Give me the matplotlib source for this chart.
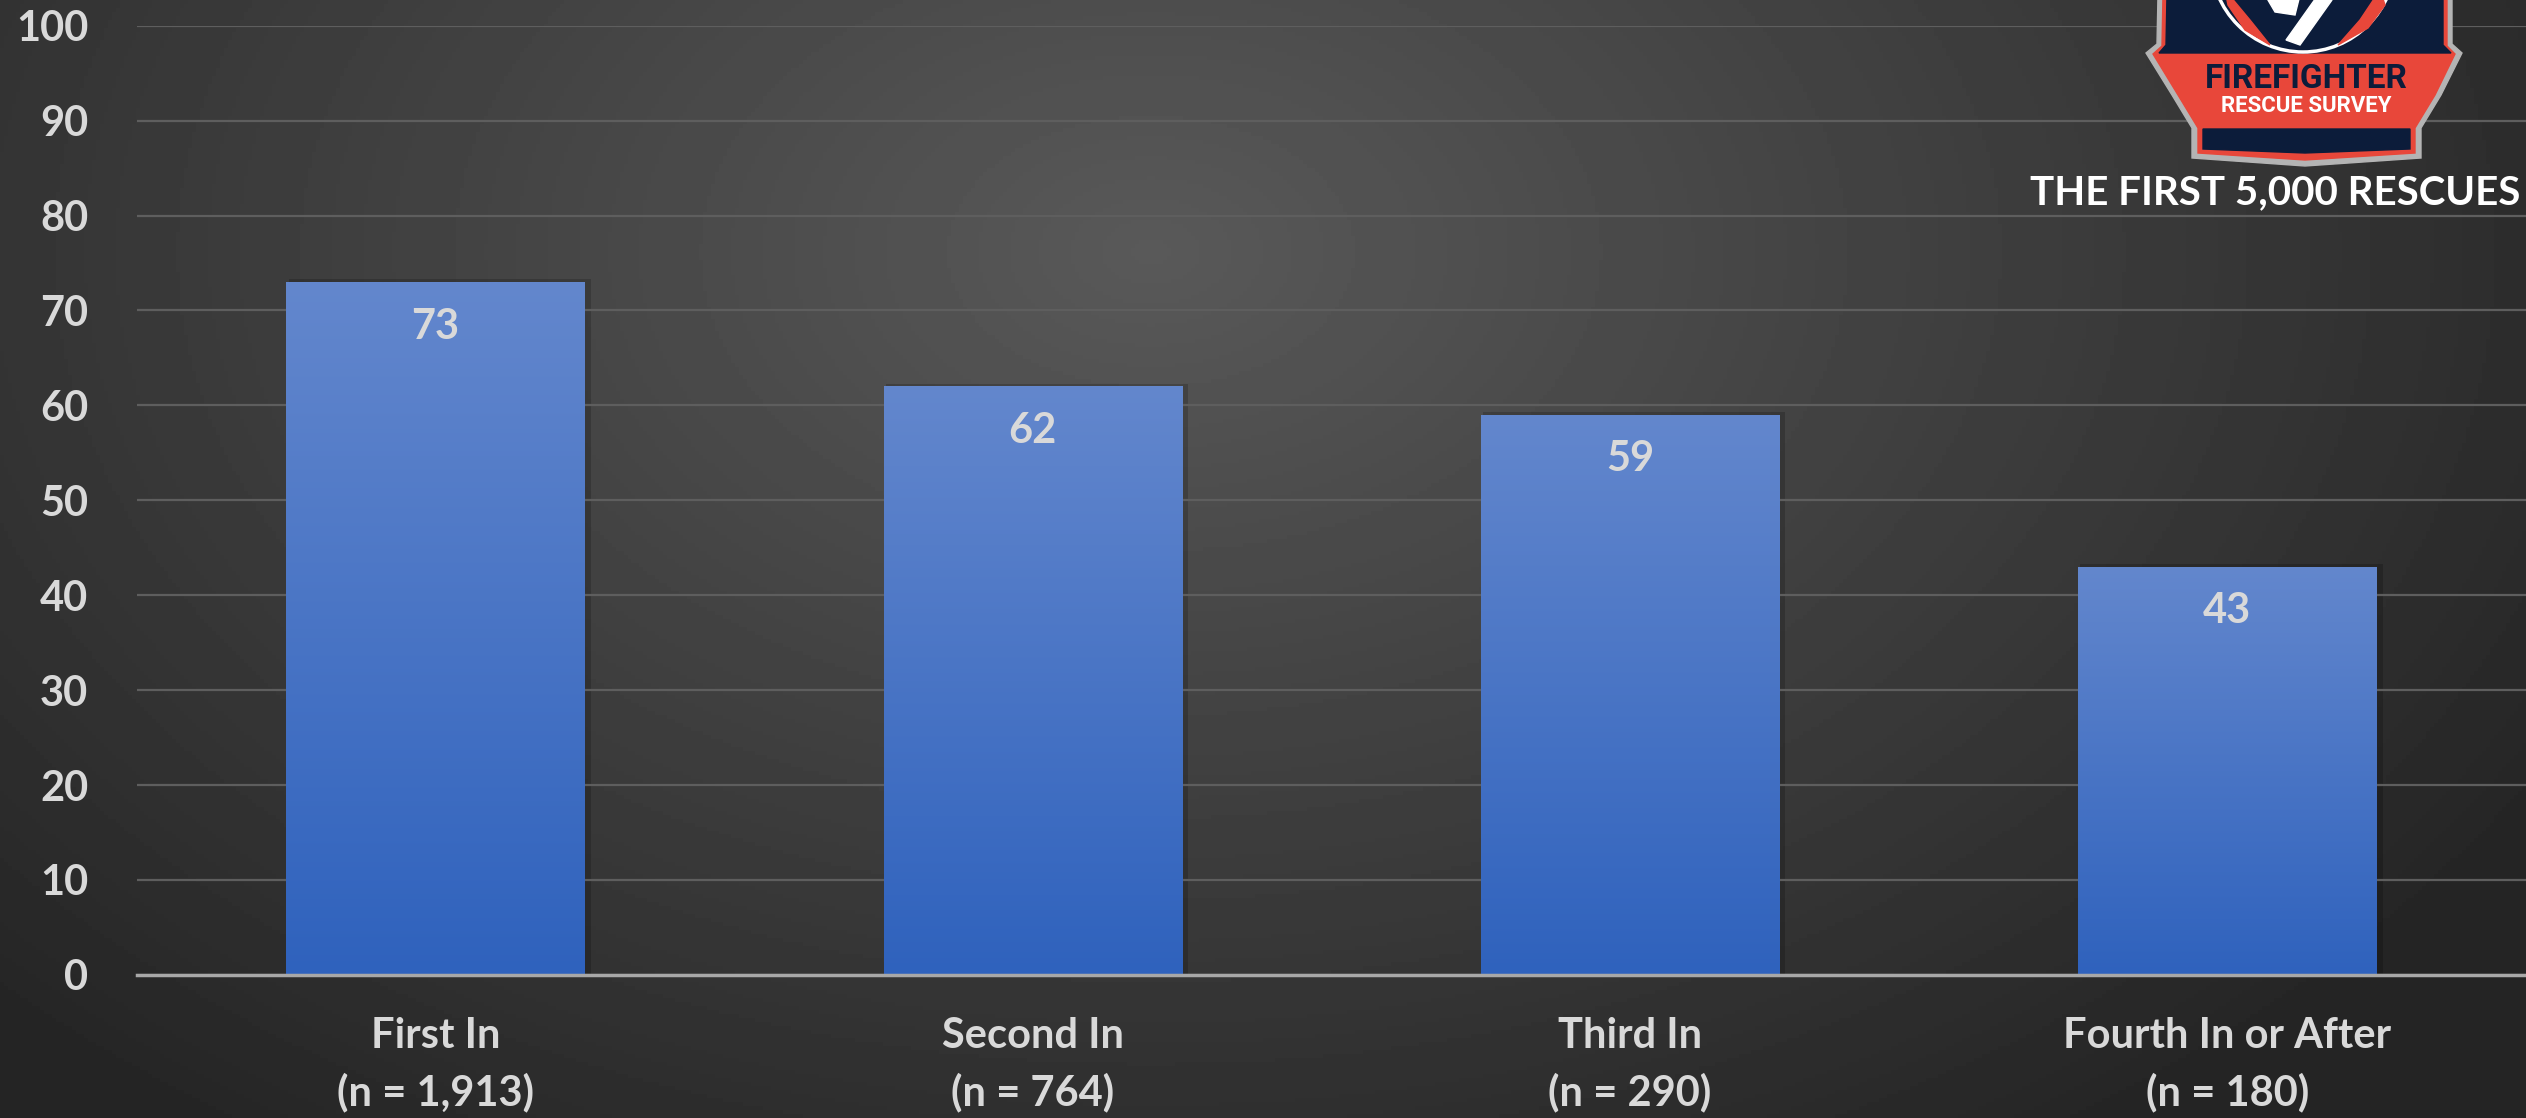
import numpy as np
import matplotlib
matplotlib.use("Agg")
import matplotlib.pyplot as plt
from matplotlib.patches import Polygon, Circle, Rectangle

# data
categories = ["First In", "Second In", "Third In", "Fourth In or After"]
sample_sizes = ["1,913", "764", "290", "180"]
percent = [73, 62, 59, 43]
y_ticks = [0, 10, 20, 30, 40, 50, 60, 70, 80, 90, 100]

W, H = 2526, 1118
TXT = "#d9d9d9"
FONT = "Lato"
FS = 30

fig = plt.figure(figsize=(W / 100, H / 100), dpi=100)

# radial grey background, lighter towards the upper middle
bg = fig.add_axes([0, 0, 1, 1])
bg.set_axis_off()
yy, xx = np.mgrid[0:H:4, 0:W:4]
d = np.sqrt(((xx - 1150) / 1500.0) ** 2 + ((yy - 250) / 1000.0) ** 2)
shade = 0.35 - 0.19 * np.clip(d, 0, 1.1)
bg.imshow(shade, cmap="gray", vmin=0, vmax=1, extent=(0, W, H, 0), aspect="auto")
bg.set_xlim(0, W)
bg.set_ylim(H, 0)

ax = fig.add_axes([0.0542, 0.128, 1 - 0.0542, 0.977 - 0.128])
ax.set_facecolor("none")
x = np.arange(len(categories))
bars = ax.bar(x, percent, width=0.5, color="#4a75c6", zorder=2)

grad = np.linspace(0, 1, 256).reshape(-1, 1)
cmap = matplotlib.colors.LinearSegmentedColormap.from_list("bar", ["#2f62bd", "#6387cd"])
for b, v in zip(bars, percent):
    # soft shadow on the right
    ax.add_patch(Rectangle((b.get_x() + 0.004, 0), b.get_width() + 0.006, v + 0.3,
                           color="black", alpha=0.18, zorder=1.5, lw=0))
    im = ax.imshow(grad, cmap=cmap, origin="lower", aspect="auto", zorder=2.5,
                   extent=(b.get_x(), b.get_x() + b.get_width(), 0, v))
    im.set_clip_path(b)
    ax.text(b.get_x() + b.get_width() / 2, v - 4.7, str(v), ha="center", va="center",
            fontsize=FS, fontweight="bold", color=TXT, family=FONT, zorder=4)

ax.set_xlim(-0.5, 3.5)
ax.set_ylim(0, 100)
ax.set_yticks(y_ticks)
ax.set_xticks(x)
ax.set_xticklabels([f"{c}\n(n = {n})" for c, n in zip(categories, sample_sizes)],
                   linespacing=1.55)
ax.tick_params(axis="y", length=0, pad=35, labelsize=FS, labelcolor=TXT)
ax.tick_params(axis="x", length=0, pad=30, labelsize=FS, labelcolor=TXT)
for lab in ax.get_xticklabels() + ax.get_yticklabels():
    lab.set_fontweight("bold")
    lab.set_family(FONT)
ax.grid(axis="y", color="#5e5e5e", lw=1.6, zorder=0)
for s in ["top", "right", "left"]:
    ax.spines[s].set_visible(False)
ax.spines["bottom"].set_color("#a8a8a8")
ax.spines["bottom"].set_linewidth(2.5)
ax.spines["bottom"].set_zorder(3)

# logo overlay, drawn in pixel coordinates
lg = fig.add_axes([0, 0, 1, 1])
lg.set_axis_off()
lg.set_xlim(0, W)
lg.set_ylim(H, 0)
lg.patch.set_alpha(0)

outline = [(2158, -5), (2157, 44), (2146, 53), (2172, 95), (2192, 128), (2192, 158),
           (2305, 166), (2421, 158), (2421, 128), (2441, 95), (2462, 53), (2452, 44), (2452, -5)]
lg.add_patch(Polygon(outline, closed=True, color="#b4b4b4", zorder=5))
red = [(2163, -5), (2162, 46), (2153, 54), (2178, 95), (2198, 128), (2198, 153),
       (2305, 160), (2415, 153), (2415, 128), (2435, 95), (2455, 54), (2447, 46), (2447, -5)]
lg.add_patch(Polygon(red, closed=True, color="#e8473a", zorder=6))
navy_top = [(2167, -5), (2166, 45), (2159, 53), (2451, 53), (2443, 45), (2443, -5)]
lg.add_patch(Polygon(navy_top, closed=True, color="#0c1c3a", zorder=7))
navy_bot = [(2203, 129), (2410, 129), (2410, 149), (2305, 153), (2203, 149)]
lg.add_patch(Polygon(navy_bot, closed=True, color="#0c1c3a", zorder=7))

lg.add_patch(Circle((2303, -40), 92, facecolor="#0c1c3a", edgecolor="white", lw=2.5, zorder=8))
lg.add_patch(Polygon([(2225, -10), (2250, 20), (2270, 45), (2245, 30), (2228, 5)],
                     closed=True, color="#e8473a", zorder=9))
lg.add_patch(Polygon([(2380, -10), (2360, 20), (2338, 45), (2368, 28), (2385, 5)],
                     closed=True, color="#e8473a", zorder=9))
lg.add_patch(Polygon([(2318, -5), (2332, 0), (2300, 45), (2286, 40)],
                     closed=True, color="white", zorder=9))
lg.add_patch(Polygon([(2265, -5), (2300, -5), (2295, 15), (2275, 12)],
                     closed=True, color="white", zorder=9))

lg.text(2306, 79, "FIREFIGHTER", ha="center", va="center", fontsize=24,
        fontweight="bold", color="#0c1c3a", family="Roboto", zorder=10)
lg.text(2306, 106, "RESCUE SURVEY", ha="center", va="center", fontsize=16,
        fontweight="bold", color="white", family="Roboto", zorder=10)
lg.text(2030, 193, "THE FIRST 5,000 RESCUES", ha="left", va="center", fontsize=29,
        fontweight="bold", color="white", family=FONT, zorder=10)

fig.savefig("out.png", dpi=100)
